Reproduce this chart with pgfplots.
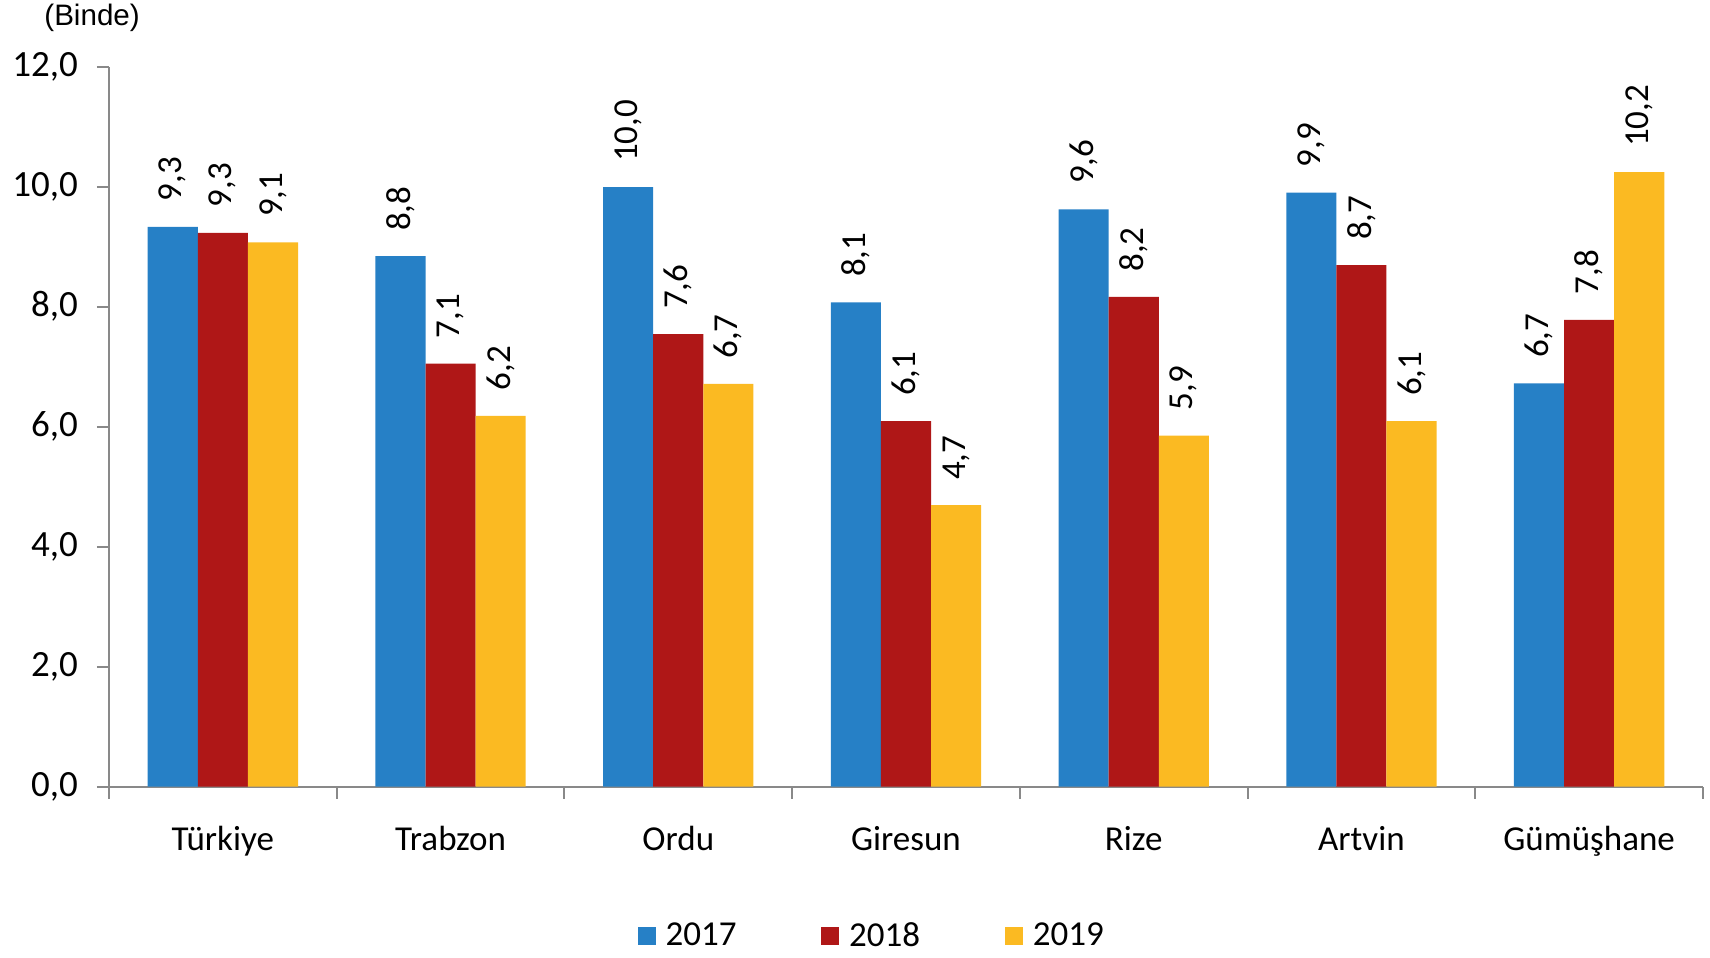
\documentclass[border=0pt]{standalone}
\usepackage{pgfplots}
\pgfplotsset{compat=1.18}
\usepackage{pgfplotstable}
\usepackage{fontspec}
\setmainfont{Carlito}
\newfontfamily\arialfont{Liberation Sans}
\definecolor{c17}{RGB}{38,128,198}
\definecolor{c18}{RGB}{175,23,23}
\definecolor{c19}{RGB}{251,186,34}
\definecolor{axgray}{RGB}{137,137,137}

\pgfplotstableread{
x y label
0 9.33 9,3
1 8.84 8,8
2 9.99 10,0
3 8.07 8,1
4 9.62 9,6
5 9.90 9,9
6 6.72 6,7
}\tA
\pgfplotstableread{
x y label
0 9.23 9,3
1 7.05 7,1
2 7.54 7,6
3 6.09 6,1
4 8.16 8,2
5 8.69 8,7
6 7.78 7,8
}\tB
\pgfplotstableread{
x y label
0 9.07 9,1
1 6.18 6,2
2 6.71 6,7
3 4.69 4,7
4 5.85 5,9
5 6.09 6,1
6 10.24 10,2
}\tC

\begin{document}
\begin{tikzpicture}
\begin{axis}[
  name=ax,
  scale only axis,
  width=797pt, height=360pt,
  xmin=-0.5, xmax=6.5, ymin=0, ymax=12,
  clip=false,
  axis x line=bottom, axis y line=left,
  axis line style={-, draw=axgray, line width=1pt},
  tick style={draw=axgray, line width=1pt},
  tick align=outside,
  major tick length=6pt,
  ytick={0,2,...,12},
  yticklabel style={font=\fontsize{18.5}{20}\selectfont, xshift=-6pt},
  /pgf/number format/.cd, fixed, fixed zerofill, precision=1, use comma, assume math mode=true,
  /pgfplots/.cd,
  xtick={-0.5,0.5,...,6.5},
  xticklabels={},
  extra x ticks={0,1,2,3,4,5,6},
  extra x tick labels={Türkiye,Trabzon,Ordu,Giresun,Rize,Artvin,Gümüşhane},
  extra x tick style={major tick length=0pt, xticklabel style={font=\fontsize{17.5}{20}\selectfont, anchor=base, yshift=-32pt}},
  ybar, bar width=0.22,
  nodes near coords,
  point meta=explicit symbolic,
  every node near coord/.append style={rotate=90, anchor=west, inner xsep=12.5pt, inner ysep=0pt, font=\fontsize{17.5}{20}\selectfont, text=black},
  legend style={at={(0.481,-0.207)}, anchor=center, draw=none, legend columns=3,
    font=\fontsize{17.5}{20}\selectfont,
    nodes={inner xsep=5pt},
    /tikz/every even column/.append style={column sep=37.3pt}},
  legend image code/.code={\fill[#1] (0pt,-4.5pt) rectangle (9pt,4.5pt);},
]
\addplot[fill=c17, draw=none, bar shift=-0.22] table[x=x, y=y, meta=label] {\tA};
\addlegendentry{2017}
\addplot[fill=c18, draw=none, bar shift=0] table[x=x, y=y, meta=label] {\tB};
\addlegendentry{2018}
\addplot[fill=c19, draw=none, bar shift=0.22] table[x=x, y=y, meta=label] {\tC};
\addlegendentry{2019}
\node[anchor=west, inner sep=0pt, font=\arialfont\fontsize{14.8}{16}\selectfont] at (rel axis cs:0,1) [xshift=-32.5pt, yshift=24.3pt] {(Binde)};
\end{axis}
\path (ax.south west) ++(-54.5pt,-84.2pt) rectangle ++(855pt,477.5pt);
\end{tikzpicture}
\end{document}
